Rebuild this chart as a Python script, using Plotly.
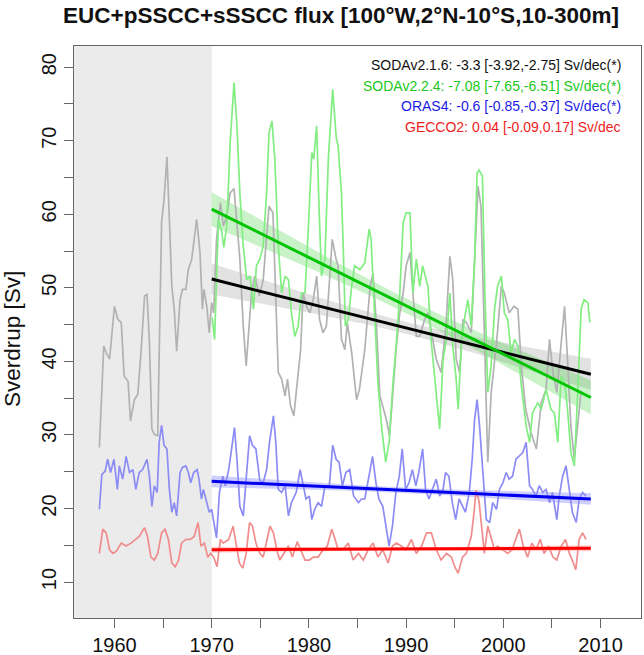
import numpy as np
import plotly.graph_objects as go

# ---------------- data ----------------
soda216_t = [1958.45, 1958.9, 1959.15, 1959.5, 1960.0, 1960.35, 1960.7, 1961.0, 1961.4, 1961.65,
             1962.05, 1962.4, 1962.75, 1963.1, 1963.35, 1963.6, 1963.85, 1964.1, 1964.45, 1964.85,
             1965.1, 1965.4, 1965.65, 1965.9, 1966.15, 1966.4, 1966.75, 1967.0, 1967.35, 1967.6,
             1967.95, 1968.2, 1968.45, 1968.6, 1968.8, 1969.05, 1969.2, 1969.5, 1969.75, 1970.0,
             1970.2, 1970.5, 1970.9, 1971.2, 1971.55, 1971.9, 1972.3, 1972.9, 1973.25, 1973.55,
             1973.8, 1974.1, 1974.45, 1974.9, 1975.3, 1975.65, 1975.9, 1976.3, 1976.5, 1976.85,
             1977.2, 1977.55, 1977.8, 1978.1, 1978.45, 1978.8, 1979.15, 1979.4, 1979.75, 1980.1,
             1980.45, 1980.8, 1981.1, 1981.45, 1981.8, 1982.15, 1982.4, 1982.8, 1983.0, 1983.35,
             1983.7, 1983.95, 1984.4, 1984.9, 1985.2, 1985.75, 1986.3, 1986.6, 1986.95, 1987.3,
             1987.6, 1987.95, 1988.3, 1988.7, 1989.0, 1989.35, 1989.7, 1990.0, 1990.4, 1990.7,
             1991.05, 1991.4, 1991.9, 1992.25, 1992.6, 1993.1, 1993.6, 1994.1, 1994.5, 1994.8,
             1995.15, 1995.5, 1995.85, 1996.2, 1996.7, 1997.05, 1997.4, 1997.7, 1998.1, 1998.4,
             1998.75, 1999.3, 1999.8, 2000.1, 2000.6, 2001.1, 2001.5, 2001.85, 2002.3, 2002.85,
             2003.4, 2003.9, 2004.4, 2004.75, 2005.1, 2005.5, 2005.95, 2006.3, 2006.6, 2006.95,
             2007.3, 2007.65, 2008.0]
soda216_v = [28.3, 42.1, 41.2, 40.3, 47.5, 45.7, 45.3, 38.0, 37.3, 31.9,
             34.8, 35.5, 41.6, 48.9, 49.1, 42.5, 30.8, 30.1, 29.9, 58.9,
             62.0, 67.8, 59.3, 50.2, 47.1, 41.4, 48.4, 49.8, 49.8, 52.5,
             53.9, 56.6, 59.3, 57.5, 54.8, 47.1, 49.8, 47.5, 43.9, 48.0,
             46.6, 56.6, 61.6, 58.4, 59.8, 62.9, 63.5, 53.9, 44.8, 39.4,
             43.9, 49.3, 51.6, 48.9, 51.1, 57.5, 61.1, 60.2, 53.0, 38.5,
             37.6, 35.3, 37.6, 34.0, 32.6, 36.7, 41.6, 49.3, 47.5, 46.6,
             48.4, 51.6, 45.7, 43.9, 44.8, 51.6, 56.6, 53.9, 53.0, 43.0,
             41.6, 45.2, 41.2, 34.8, 36.2, 41.6, 50.2, 52.0, 44.8, 35.3,
             34.0, 32.2, 29.9, 37.6, 42.1, 46.6, 49.3, 53.0, 54.8, 49.3,
             43.4, 43.4, 45.7, 46.6, 43.9, 40.3, 38.5, 44.8, 54.3, 51.1,
             40.3, 38.5, 45.7, 45.3, 43.9, 53.0, 63.8, 61.1, 40.3, 26.3,
             35.8, 42.5, 50.2, 49.3, 46.6, 47.5, 47.1, 39.4, 33.5, 30.3,
             28.1, 34.4, 36.2, 43.0, 38.5, 35.8, 42.5, 47.5, 40.3, 31.2,
             26.7, 31.0, 36.0]

soda224_t = [1970.05, 1970.3, 1970.7, 1971.05, 1971.25, 1971.55, 1971.9, 1972.3, 1972.6, 1972.9,
             1973.25, 1973.6, 1973.95, 1974.3, 1974.6, 1974.95, 1975.3, 1975.65, 1975.9, 1976.2,
             1976.5, 1976.85, 1977.2, 1977.55, 1977.9, 1978.2, 1978.55, 1978.9, 1979.25, 1979.6,
             1979.95, 1980.3, 1980.5, 1980.8, 1981.05, 1981.3, 1981.65, 1982.0, 1982.45, 1982.8,
             1983.0, 1983.35, 1983.55, 1983.75, 1984.05, 1984.4, 1984.7, 1985.25, 1985.75, 1986.2,
             1986.4, 1986.8, 1987.1, 1987.5, 1987.9, 1988.25, 1988.65, 1989.0, 1989.35, 1989.7,
             1990.0, 1990.4, 1990.7, 1991.05, 1991.4, 1991.7, 1992.25, 1992.6, 1993.1, 1993.45,
             1993.8, 1994.15, 1994.5, 1994.8, 1995.15, 1995.35, 1995.7, 1996.0, 1996.35, 1996.7,
             1997.05, 1997.3, 1997.5, 1997.85, 1998.1, 1998.4, 1998.75, 1999.1, 1999.4, 1999.8,
             2000.1, 2000.45, 2000.8, 2001.15, 2001.5, 2001.85, 2002.35, 2002.7, 2003.0, 2003.55,
             2003.9, 2004.4, 2004.9, 2005.25, 2005.6, 2005.95, 2006.3, 2006.6, 2006.95, 2007.3,
             2007.65, 2008.0, 2008.3, 2008.7, 2008.9]
soda224_v = [46.0, 43.0, 59.3, 57.5, 55.5, 58.4, 69.7, 77.9, 72.0, 62.9,
             55.7, 51.1, 51.6, 47.1, 53.0, 53.9, 55.7, 62.9, 71.1, 72.7,
             67.5, 55.7, 49.3, 51.6, 51.1, 46.6, 43.4, 44.8, 49.3, 49.3,
             58.4, 68.4, 67.5, 72.0, 60.7, 51.6, 53.9, 67.5, 77.0, 70.6,
             69.3, 62.9, 54.8, 44.8, 45.7, 50.2, 53.0, 52.5, 53.4, 58.0,
             56.6, 44.8, 37.1, 30.8, 26.3, 29.0, 37.1, 42.5, 49.3, 58.9,
             60.2, 60.2, 49.3, 53.9, 50.2, 53.0, 50.2, 42.5, 35.8, 30.8,
             40.3, 43.0, 49.3, 42.1, 37.6, 33.5, 42.5, 45.7, 48.4, 44.8,
             53.9, 65.6, 66.0, 65.2, 49.3, 35.8, 39.4, 47.1, 50.2, 51.6,
             46.6, 45.7, 41.2, 43.0, 42.1, 36.7, 31.2, 29.0, 33.0, 34.4,
             33.5, 36.2, 33.5, 33.0, 29.0, 38.0, 37.1, 33.5, 27.6, 25.8,
             35.8, 47.1, 48.4, 48.0, 45.3]

oras4_t = [1958.45, 1958.7, 1959.05, 1959.3, 1959.6, 1959.95, 1960.3, 1960.5, 1960.85, 1961.2,
           1961.55, 1961.9, 1962.2, 1962.55, 1962.9, 1963.35, 1963.6, 1963.85, 1964.1, 1964.4,
           1964.6, 1964.85, 1965.1, 1965.4, 1965.65, 1965.9, 1966.15, 1966.4, 1966.75, 1967.0,
           1967.35, 1967.6, 1967.85, 1968.15, 1968.5, 1968.7, 1968.95, 1969.15, 1969.5, 1969.75,
           1970.0, 1970.25, 1970.5, 1970.8, 1971.15, 1971.4, 1971.75, 1972.05, 1972.35, 1972.6,
           1972.9, 1973.25, 1973.6, 1973.9, 1974.2, 1974.55, 1974.95, 1975.3, 1975.65, 1975.95,
           1976.35, 1976.6, 1976.85, 1977.2, 1977.55, 1977.9, 1978.2, 1978.7, 1979.1, 1979.35,
           1979.7, 1980.05, 1980.3, 1980.6, 1980.95, 1981.3, 1981.65, 1982.1, 1982.45, 1982.8,
           1983.1, 1983.45, 1983.8, 1984.2, 1984.6, 1985.1, 1985.4, 1985.75, 1986.2, 1986.55,
           1986.9, 1987.2, 1987.6, 1987.9, 1988.25, 1988.6, 1988.95, 1989.3, 1989.6, 1989.95,
           1990.3, 1990.65, 1991.0, 1991.3, 1991.7, 1992.0, 1992.35, 1992.7, 1993.1, 1993.45,
           1993.8, 1994.05, 1994.4, 1994.75, 1995.1, 1995.45, 1995.8, 1996.1, 1996.5, 1996.8,
           1997.05, 1997.3, 1997.55, 1997.9, 1998.25, 1998.6, 1998.9, 1999.3, 1999.6, 1999.95,
           2000.3, 2000.6, 2000.95, 2001.3, 2001.65, 2002.0, 2002.35, 2002.7, 2003.0, 2003.35,
           2003.7, 2004.05, 2004.4, 2004.75, 2005.05, 2005.5, 2005.75, 2006.1, 2006.45, 2006.8,
           2007.1, 2007.5, 2007.8, 2008.15, 2008.5]
oras4_v = [19.9, 24.6, 25.1, 26.7, 24.9, 26.7, 22.6, 25.8, 24.0, 27.1,
           24.9, 25.3, 22.6, 24.9, 25.3, 26.7, 24.4, 20.3, 23.1, 22.2,
           29.0, 31.3, 28.6, 28.1, 22.6, 19.5, 20.8, 19.0, 24.9, 25.6,
           25.8, 24.9, 23.5, 24.9, 25.3, 24.0, 21.3, 22.6, 20.8, 19.5,
           19.9, 17.7, 16.0, 22.2, 24.4, 23.1, 25.3, 28.1, 31.0, 26.7,
           20.3, 19.0, 24.9, 29.9, 28.6, 28.1, 23.8, 23.5, 25.3, 29.0,
           32.6, 29.0, 22.6, 22.2, 23.1, 19.0, 20.8, 22.2, 25.3, 23.5,
           21.3, 21.7, 18.5, 19.9, 20.8, 20.3, 23.1, 23.1, 28.6, 26.7,
           26.3, 23.1, 24.9, 25.3, 21.7, 20.8, 21.3, 21.3, 24.4, 27.1,
           23.5, 21.3, 20.3, 17.7, 14.9, 17.7, 22.2, 24.4, 28.1, 22.6,
           23.5, 25.3, 23.1, 24.9, 28.1, 22.6, 21.3, 22.6, 24.0, 21.7,
           22.6, 24.9, 24.4, 20.8, 18.5, 21.3, 20.3, 19.5, 22.2, 26.7,
           32.2, 34.8, 31.3, 24.4, 18.5, 18.1, 20.8, 19.9, 22.6, 23.5,
           24.9, 24.0, 24.4, 26.7, 27.1, 27.6, 29.0, 23.1, 22.6, 21.7,
           23.1, 22.2, 22.6, 20.8, 22.2, 18.5, 21.7, 24.4, 25.8, 22.2,
           19.5, 18.1, 21.3, 22.2, 21.7]

gecco2_t = [1958.45, 1958.8, 1959.15, 1959.5, 1959.85, 1960.2, 1960.7, 1961.2, 1961.7, 1962.2,
            1962.55, 1963.1, 1963.4, 1963.75, 1964.1, 1964.45, 1964.85, 1965.2, 1965.55, 1965.9,
            1966.25, 1966.6, 1966.9, 1967.35, 1967.8, 1968.2, 1968.6, 1968.9, 1969.25, 1969.6,
            1969.9, 1970.2, 1970.55, 1970.9, 1971.2, 1971.75, 1972.2, 1972.5, 1972.85, 1973.2,
            1973.55, 1973.9, 1974.2, 1974.55, 1974.95, 1975.3, 1975.65, 1976.0, 1976.35, 1976.7,
            1977.0, 1977.45, 1977.9, 1978.3, 1978.8, 1979.15, 1979.6, 1980.05, 1980.45, 1980.95,
            1981.45, 1981.9, 1982.35, 1982.7, 1983.0, 1983.5, 1984.05, 1984.55, 1985.1, 1985.6,
            1986.1, 1986.6, 1987.1, 1987.6, 1988.15, 1988.6, 1989.0, 1989.5, 1990.0, 1990.55,
            1991.05, 1991.6, 1992.1, 1992.6, 1993.1, 1993.6, 1994.15, 1994.65, 1995.0, 1995.35,
            1995.8, 1996.2, 1996.7, 1996.95, 1997.2, 1997.5, 1997.8, 1998.05, 1998.4, 1998.75,
            1999.1, 1999.4, 1999.95, 2000.45, 2000.9, 2001.3, 2001.65, 2002.05, 2002.5, 2002.95,
            2003.35, 2003.8, 2004.2, 2004.65, 2005.1, 2005.5, 2005.95, 2006.4, 2006.8, 2007.2,
            2007.45, 2007.8, 2008.15, 2008.5]
gecco2_v = [13.9, 17.2, 16.7, 14.4, 13.9, 14.2, 15.3, 14.9, 15.3, 15.8,
            16.2, 17.4, 16.2, 13.4, 13.0, 13.9, 16.7, 17.2, 15.8, 12.6,
            12.1, 13.0, 15.3, 15.8, 15.8, 16.2, 18.1, 14.9, 15.3, 13.4,
            13.9, 13.4, 12.1, 15.8, 15.3, 15.8, 17.6, 15.3, 12.6, 11.9,
            13.9, 18.1, 17.6, 15.3, 13.9, 13.4, 15.3, 17.6, 16.7, 14.4,
            13.0, 13.9, 14.9, 13.4, 15.5, 14.4, 13.0, 13.0, 13.4, 13.4,
            14.4, 14.9, 17.2, 15.8, 14.4, 14.4, 15.3, 13.0, 13.9, 13.0,
            14.4, 15.3, 13.4, 14.4, 12.6, 14.9, 15.3, 14.9, 14.4, 15.8,
            13.9, 14.9, 16.7, 16.7, 14.4, 13.0, 13.9, 13.4, 12.1, 11.2,
            13.4, 13.9, 16.2, 19.0, 22.5, 21.0, 16.7, 13.9, 17.6, 15.8,
            14.4, 14.9, 14.4, 13.9, 14.4, 15.8, 17.2, 14.9, 13.4, 15.3,
            14.4, 15.8, 13.9, 14.9, 13.4, 13.0, 14.9, 15.8, 13.9, 12.6,
            11.7, 15.8, 16.7, 15.8]

trend_years = [1970, 2009]
soda216_trend = [51.2, 38.25]
soda224_trend = [60.7, 35.1]
oras4_trend = [23.7, 21.3]
gecco2_trend = [14.4, 14.6]
# confidence band half-widths [at ends, at centre] (Sv)
soda216_ci = [2.1, 0.8]
soda224_ci = [2.3, 1.0]
oras4_ci = [0.8, 0.35]
gecco2_ci = [0.4, 0.2]

legend_texts = ["SODAv2.1.6: -3.3 [-3.92,-2.75] Sv/dec(*)",
                "SODAv2.2.4: -7.08 [-7.65,-6.51] Sv/dec(*)",
                "ORAS4: -0.6 [-0.85,-0.37] Sv/dec(*)",
                "GECCO2: 0.04 [-0.09,0.17] Sv/dec"]
legend_colors = ["#111111", "#22c722", "#1a1ae6", "#ee2222"]

x_ticks = [1960, 1970, 1980, 1990, 2000, 2010]
y_ticks = [10, 20, 30, 40, 50, 60, 70, 80]

# ---------------- layout geometry ----------------
W, H = 644, 655
L, R, T, B = 74, 641, 46, 618
FONT = "Liberation Sans, Arial, Helvetica, sans-serif"
XR = [1955.84, 2014.16]
YR = [5.12, 82.88]


def px_x(p):
    return (p - L) / (R - L)


def px_y(p):
    return (B - p) / (B - T)


fig = go.Figure()

series = [
    (soda216_t, soda216_v, "rgb(178,178,178)", soda216_trend, soda216_ci, "rgba(140,140,140,0.25)", "#000000"),
    (soda224_t, soda224_v, "rgb(130,238,130)", soda224_trend, soda224_ci, "rgba(40,205,40,0.25)", "#00c400"),
    (oras4_t, oras4_v, "rgb(140,140,245)", oras4_trend, oras4_ci, "rgba(60,60,255,0.25)", "#0000ee"),
    (gecco2_t, gecco2_v, "rgb(240,140,140)", gecco2_trend, gecco2_ci, "rgba(255,60,60,0.25)", "#ff0000"),
]

# bands first
for (t, v, c, tr, ci, bc, lc) in series:
    tt = np.linspace(trend_years[0], trend_years[1], 60)
    frac = (tt - trend_years[0]) / (trend_years[1] - trend_years[0])
    line = tr[0] + (tr[1] - tr[0]) * frac
    u = (frac - 0.5) * 2
    hw = np.sqrt(ci[1] ** 2 + (ci[0] ** 2 - ci[1] ** 2) * u ** 2)
    fig.add_trace(go.Scatter(x=np.concatenate([tt, tt[::-1]]),
                             y=np.concatenate([line + hw, (line - hw)[::-1]]),
                             fill="toself", fillcolor=bc, line=dict(width=0),
                             mode="lines", hoverinfo="skip", showlegend=False))

for (t, v, c, tr, ci, bc, lc) in series:
    fig.add_trace(go.Scatter(x=t, y=v, mode="lines", line=dict(color=c, width=1.7),
                             showlegend=False))

for (t, v, c, tr, ci, bc, lc) in series:
    fig.add_trace(go.Scatter(x=trend_years, y=tr, mode="lines", line=dict(color=lc, width=3),
                             showlegend=False))

shapes = [dict(type="rect", xref="x", yref="paper", x0=XR[0], x1=1970, y0=0, y1=1,
               fillcolor="#ebebeb", line=dict(width=0), layer="below")]

annotations = []
leg_y = [65, 85.5, 106, 126.5]
for txt, col, yy in zip(legend_texts, legend_colors, leg_y):
    annotations.append(dict(text=txt, xref="paper", yref="paper", x=px_x(623), y=px_y(yy),
                            xanchor="right", yanchor="middle", showarrow=False,
                            font=dict(family=FONT, size=14, color=col)))
annotations.append(dict(text="Sverdrup [Sv]", xref="paper", yref="paper", x=px_x(12), y=px_y(339),
                        xanchor="center", yanchor="middle", textangle=-90, showarrow=False,
                        font=dict(family=FONT, size=22.5, color="#111111")))
annotations.append(dict(text="<b>EUC+pSSCC+sSSCC flux [100°W,2°N-10°S,10-300m]</b>",
                        xref="paper", yref="paper", x=px_x(341), y=px_y(16),
                        xanchor="center", yanchor="middle", showarrow=False,
                        font=dict(family=FONT, size=22.5, color="#111111")))

axis_common = dict(showgrid=False, zeroline=False, showline=True, mirror=True,
                   linecolor="#666666", linewidth=1.2, ticks="outside", ticklen=9,
                   tickwidth=1.2, tickcolor="#666666", automargin=False,
                   tickfont=dict(family=FONT, size=20, color="#111111"))

fig.update_layout(
    width=W, height=H, margin=dict(l=L, r=W - R, t=T, b=H - B),
    paper_bgcolor="white", plot_bgcolor="white",
    showlegend=False, shapes=shapes, annotations=annotations,
    xaxis=dict(range=XR, tickvals=x_ticks, ticktext=[str(v) for v in x_ticks],
               minor=dict(dtick=5, tick0=1955, ticks="outside", ticklen=9, tickwidth=1.2,
                          tickcolor="#666666", showgrid=False),
               **axis_common),
    yaxis=dict(range=YR, tickvals=y_ticks, ticktext=[str(v) for v in y_ticks], tickangle=-90,
               minor=dict(dtick=5, tick0=0, ticks="outside", ticklen=9, tickwidth=1.2,
                          tickcolor="#666666", showgrid=False),
               **axis_common),
)

fig.write_html("out.html", config={"displayModeBar": False},
               post_script="document.body.style.margin='0px';document.body.style.overflow='hidden';")
